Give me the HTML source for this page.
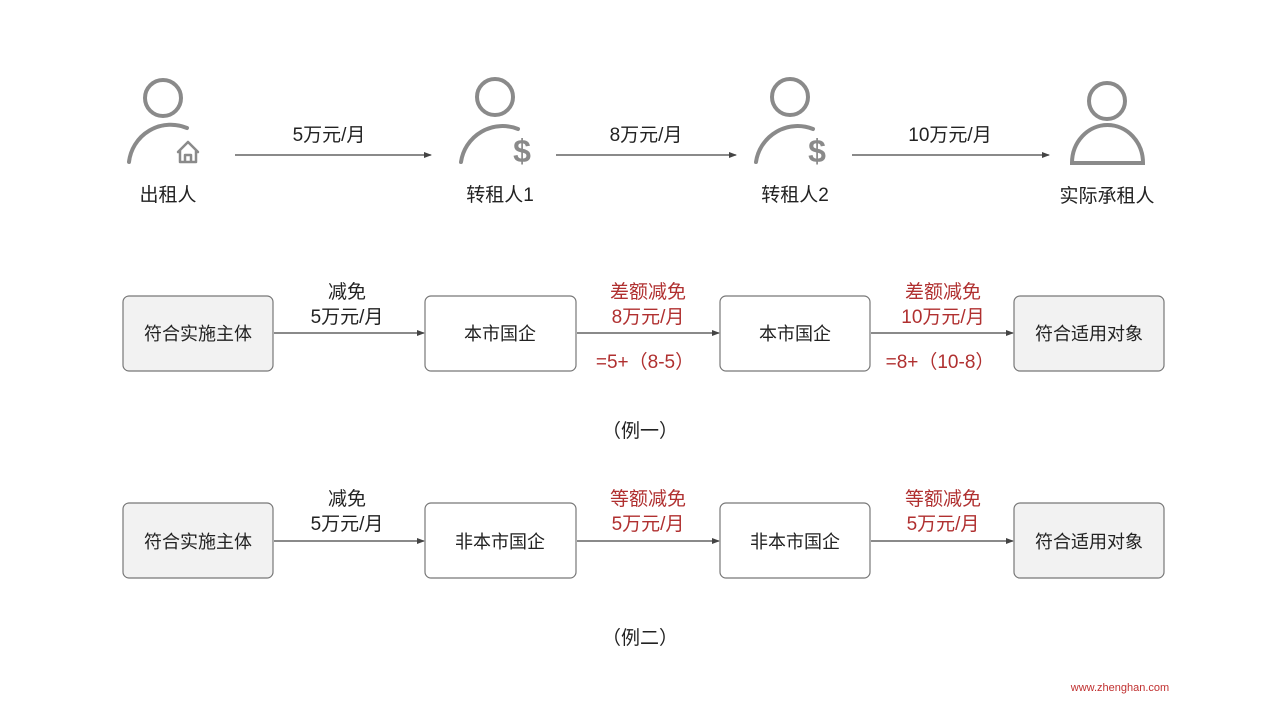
<!DOCTYPE html>
<html><head><meta charset="utf-8"><style>
body{margin:0;background:#fff}
svg text{font-family:"Liberation Sans","Noto Sans CJK SC",sans-serif}
</style></head><body>
<svg width="1280" height="720" viewBox="0 0 1280 720" xmlns="http://www.w3.org/2000/svg">
<defs><marker id="a" markerWidth="8" markerHeight="8" refX="7" refY="4" orient="auto" markerUnits="userSpaceOnUse"><path d="M0,1 L8,4 L0,7z" fill="#444"/></marker></defs>
<g fill="none" stroke="#8a8a8a" stroke-width="4" stroke-linecap="round">
<circle cx="163" cy="98" r="18"/><path d="M129,162 A42,42 0 0 1 187,128"/>
<circle cx="495" cy="97" r="18"/><path d="M461,162 A42,42 0 0 1 518,129"/>
<circle cx="790" cy="97" r="18"/><path d="M756,162 A42,42 0 0 1 813,129"/>
<circle cx="1107" cy="101" r="18"/><path d="M1072,163 A35.5,38 0 0 1 1143,163 Z"/>
<path d="M178,152 L188,142 L198,152 M180,150 V162 H196 V150 M185,162 V155 H191 V162" stroke-width="2.5" stroke-linejoin="round"/>
</g>
<g font-size="32" fill="#8a8a8a" font-weight="bold" text-anchor="middle"><text x="522" y="162">$</text><text x="817" y="162">$</text></g>
<g stroke="#444" stroke-width="1.3" marker-end="url(#a)">
<line x1="235" y1="155" x2="431" y2="155"/><line x1="556" y1="155" x2="736" y2="155"/><line x1="852" y1="155" x2="1049" y2="155"/>
<line x1="274" y1="333" x2="424" y2="333"/><line x1="577" y1="333" x2="719" y2="333"/><line x1="871" y1="333" x2="1013" y2="333"/>
<line x1="274" y1="541" x2="424" y2="541"/><line x1="577" y1="541" x2="719" y2="541"/><line x1="871" y1="541" x2="1013" y2="541"/>
</g>
<g stroke="#777" stroke-width="1.2">
<rect x="123" y="296" width="150" height="75" rx="6" fill="#f2f2f2"/><rect x="425" y="296" width="151" height="75" rx="6" fill="#fff"/><rect x="720" y="296" width="150" height="75" rx="6" fill="#fff"/><rect x="1014" y="296" width="150" height="75" rx="6" fill="#f2f2f2"/>
<rect x="123" y="503" width="150" height="75" rx="6" fill="#f2f2f2"/><rect x="425" y="503" width="151" height="75" rx="6" fill="#fff"/><rect x="720" y="503" width="150" height="75" rx="6" fill="#fff"/><rect x="1014" y="503" width="150" height="75" rx="6" fill="#f2f2f2"/>
</g>
<g font-size="19" fill="#222" text-anchor="middle">
<text x="329" y="141">5万元/月</text><text x="646" y="141">8万元/月</text><text x="950" y="141">10万元/月</text>
<text x="168" y="201">出租人</text><text x="500" y="201">转租人1</text><text x="795" y="201">转租人2</text><text x="1107" y="202">实际承租人</text>
<text x="347" y="298">减免</text><text x="347" y="323">5万元/月</text>
<text x="347" y="505">减免</text><text x="347" y="530">5万元/月</text>
<text x="640" y="437">（例一）</text><text x="640" y="644">（例二）</text>
</g>
<g font-size="18" fill="#222" text-anchor="middle">
<text x="198" y="340">符合实施主体</text><text x="500" y="340">本市国企</text><text x="795" y="340">本市国企</text><text x="1089" y="340">符合适用对象</text>
<text x="198" y="548">符合实施主体</text><text x="500" y="548">非本市国企</text><text x="795" y="548">非本市国企</text><text x="1089" y="548">符合适用对象</text>
</g>
<g font-size="19" fill="#b03030" text-anchor="middle">
<text x="648" y="298">差额减免</text><text x="648" y="323">8万元/月</text><text x="645" y="368">=5+（8-5）</text>
<text x="943" y="298">差额减免</text><text x="943" y="323">10万元/月</text><text x="940" y="368">=8+（10-8）</text>
<text x="648" y="505">等额减免</text><text x="648" y="530">5万元/月</text>
<text x="943" y="505">等额减免</text><text x="943" y="530">5万元/月</text>
</g>
<text x="1120" y="691" font-size="11" fill="#c03030" text-anchor="middle">www.zhenghan.com</text>
</svg>
</body></html>
